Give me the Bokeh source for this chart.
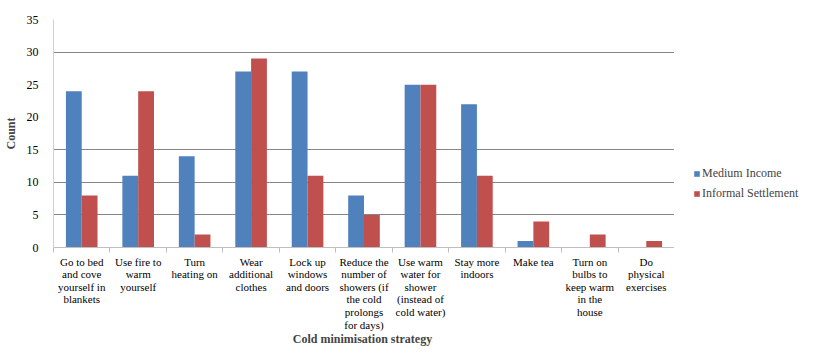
import numpy as np
from bokeh.plotting import figure
from bokeh.layouts import row
from bokeh.models import ColumnDataSource, FixedTicker, Range1d, Legend, LegendItem
from bokeh.embed import file_html
from bokeh.resources import INLINE

categories = [
    "Go to bed\nand cove\nyourself in\nblankets",
    "Use fire to\nwarm\nyourself",
    "Turn\nheating on",
    "Wear\nadditional\nclothes",
    "Lock up\nwindows\nand doors",
    "Reduce the\nnumber of\nshowers (if\nthe cold\nprolongs\nfor days)",
    "Use warm\nwater for\nshower\n(instead of\ncold water)",
    "Stay more\nindoors",
    "Make tea",
    "Turn on\nbulbs to\nkeep warm\nin the\nhouse",
    "Do\nphysical\nexercises",
]
series_names = ["Medium Income", "Informal Settlement"]
medium_income = [24, 11, 14, 27, 27, 8, 25, 22, 1, 0, 0]
informal_settlement = [8, 24, 2, 29, 11, 5, 25, 11, 4, 2, 1]
y_ticks = [0, 5, 10, 15, 20, 25, 30, 35]
grid_ticks = [5, 10, 15, 30]
colors = ["#4F81BD", "#C0504D"]

n = len(categories)
centers = np.arange(n) + 0.5
src = ColumnDataSource(dict(
    x_m=centers - 0.14, x_i=centers + 0.14,
    m=medium_income, i=informal_settlement,
))

FONT = "Liberation Serif"
p = figure(width=674, height=359, output_backend="svg", toolbar_location=None,
           x_range=Range1d(0, n), y_range=Range1d(0, 35),
           min_border_left=46, min_border_right=0, min_border_top=19, min_border_bottom=112)
p.outline_line_color = None
p.background_fill_color = "white"

r1 = p.vbar(x="x_m", top="m", width=0.28, source=src, fill_color=colors[0], line_color=None)
r2 = p.vbar(x="x_i", top="i", width=0.28, source=src, fill_color=colors[1], line_color=None)

# x axis
p.xaxis.ticker = FixedTicker(ticks=list(centers), minor_ticks=list(range(n + 1)))
p.xaxis.major_label_overrides = {float(c): lab for c, lab in zip(centers, categories)}
p.xaxis.major_tick_line_color = None
p.xaxis.major_tick_out = 0
p.xaxis.major_tick_in = 0
p.xaxis.minor_tick_out = 5
p.xaxis.minor_tick_in = 0
p.xaxis.minor_tick_line_color = "#bfbfbf"
p.xaxis.axis_line_color = "#bfbfbf"
p.xaxis.major_label_standoff = 3
p.xaxis.major_label_text_font = FONT
p.xaxis.major_label_text_font_size = "11px"
p.xaxis.major_label_text_line_height = 1.05
p.xaxis.major_label_text_color = "black"
p.xaxis.axis_label = "Cold minimisation  strategy"
p.xaxis.axis_label_text_font = FONT
p.xaxis.axis_label_text_font_size = "12px"
p.xaxis.axis_label_text_font_style = "bold"
p.xaxis.axis_label_standoff = -2
p.xgrid.grid_line_color = None

# y axis
p.yaxis.ticker = FixedTicker(ticks=y_ticks)
p.yaxis.major_tick_line_color = None
p.yaxis.minor_tick_line_color = None
p.yaxis.axis_line_color = "#d0d0d0"
p.yaxis.major_label_text_font = FONT
p.yaxis.major_label_text_font_size = "12px"
p.yaxis.major_label_text_color = "black"
p.yaxis.major_label_standoff = 9
p.yaxis.axis_label = "Count"
p.yaxis.axis_label_text_font = FONT
p.yaxis.axis_label_text_font_size = "12px"
p.yaxis.axis_label_text_font_style = "bold"
p.yaxis.axis_label_standoff = 6
p.ygrid.ticker = FixedTicker(ticks=grid_ticks)
p.ygrid.grid_line_color = "#868686"
p.ygrid.grid_line_width = 1

# legend panel
lg = figure(width=156, height=359, output_backend="svg", toolbar_location=None,
            x_axis_location=None, y_axis_location=None,
            x_range=Range1d(0, 1), y_range=Range1d(0, 1),
            min_border=0, min_border_left=0, min_border_right=0, min_border_top=0, min_border_bottom=0)
lg.outline_line_color = None
lg.grid.grid_line_color = None
d1 = lg.vbar(x=[0], top=[0], width=0.01, fill_color=colors[0], line_color=None)
d2 = lg.vbar(x=[0], top=[0], width=0.01, fill_color=colors[1], line_color=None)
legend = Legend(items=[LegendItem(label=series_names[0], renderers=[d1]),
                       LegendItem(label=series_names[1], renderers=[d2])],
                location=(19, 46))
legend.border_line_color = None
legend.background_fill_alpha = 0
legend.padding = 0
legend.margin = 0
legend.glyph_width = 7
legend.glyph_height = 7
legend.label_height = 14
legend.spacing = 5
legend.label_standoff = 2
legend.label_text_font = FONT
legend.label_text_font_size = "12px"
lg.add_layout(legend, "center")

layout = row(p, lg, spacing=0)
open("out.html", "w").write(file_html(layout, INLINE))
